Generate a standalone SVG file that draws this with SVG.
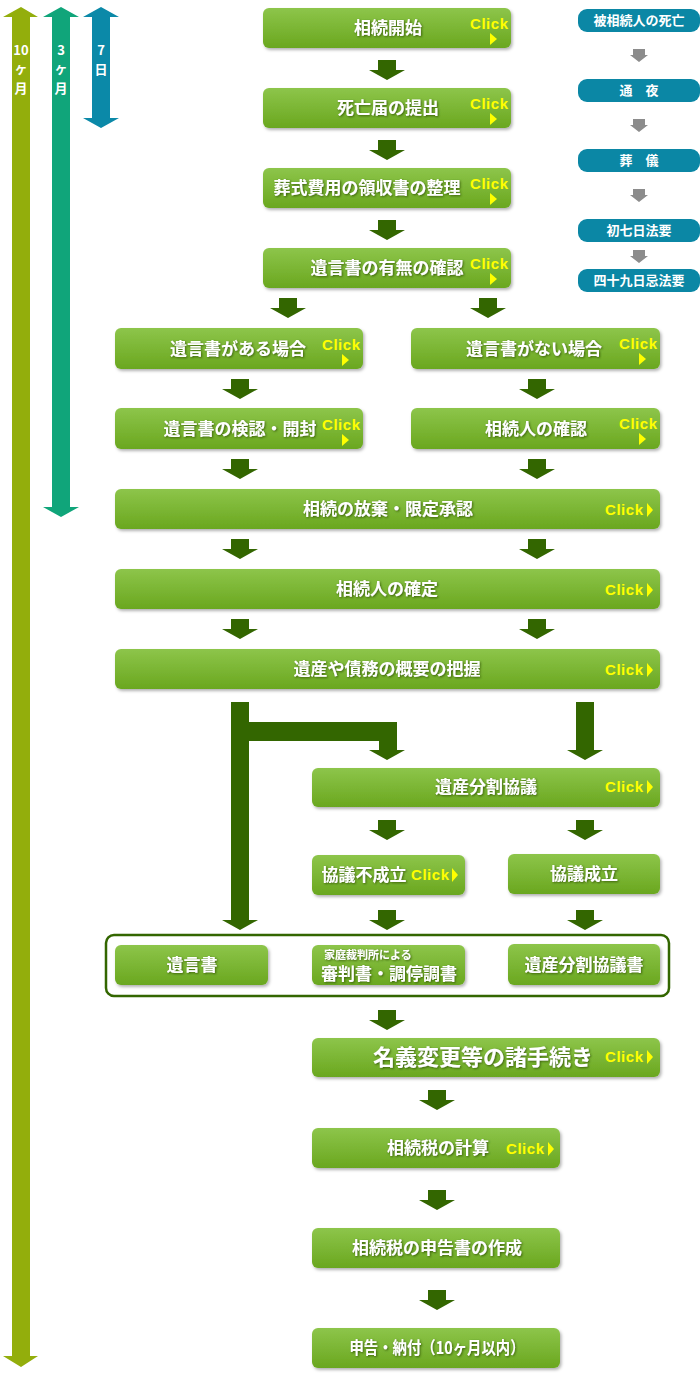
<svg xmlns="http://www.w3.org/2000/svg" xmlns:xlink="http://www.w3.org/1999/xlink" width="700" height="1383" viewBox="0 0 700 1383">
<style>
.box{fill:url(#g);filter:url(#bs)}
.t{font-family:"Noto Sans CJK JP","Noto Sans",sans-serif;font-weight:700;font-size:17px;fill:#fff;text-anchor:middle;filter:url(#ts)}
.ck{font-family:"Liberation Sans",Arial,sans-serif;font-weight:700;font-size:15px;fill:#ffff00;text-anchor:end}
.tri{fill:#ffff00}
.side{fill:#0b87a5}
.st{font-family:"Noto Sans CJK JP","Noto Sans",sans-serif;font-weight:700;font-size:13px;fill:#fff;text-anchor:middle}
.vl{font-family:"Noto Sans CJK JP","Liberation Sans",sans-serif;font-weight:700;font-size:13px;fill:#fff;text-anchor:middle}
.dg{fill:#336600}
.gy{fill:#8c8c8c}
</style>
<defs>
<linearGradient id="g" x1="0" y1="0" x2="0" y2="1">
<stop offset="0" stop-color="#8dc54a"/>
<stop offset="1" stop-color="#6aa71f"/>
</linearGradient>
<filter id="bs" x="-5%" y="-20%" width="110%" height="150%">
<feDropShadow dx="1.5" dy="2" stdDeviation="1.5" flood-color="#000" flood-opacity="0.3"/>
</filter>
<filter id="ts" x="-10%" y="-30%" width="120%" height="160%">
<feDropShadow dx="1" dy="1" stdDeviation="0.8" flood-color="#2a4d00" flood-opacity="0.8"/>
</filter>
<path id="arr" d="M-9,0H9V10H18L0,20L-18,10H-9Z"/>
<path id="garr" d="M-6,0H6V6H9L0,13L-9,6H-6Z"/>
</defs>

<g id="period-arrows">
<path fill="#93ae0c" d="M21,7L38,17H30V1356H38L21,1367L3,1356H12V17H3Z"/>
<path fill="#10a57a" d="M61,7L79,17H70V507H79L61,517L43,507H52V17H43Z"/>
<path fill="#0b89a8" d="M101,7L119,17H110V118H119L101,128L83,118H92V17H83Z"/>
<text class="vl" x="21" y="55">10</text><text class="vl" x="21" y="73">ヶ</text><text class="vl" x="21" y="93">月</text>
<text class="vl" x="61" y="55">3</text><text class="vl" x="61" y="73">ヶ</text><text class="vl" x="61" y="93">月</text>
<text class="vl" x="101" y="55">7</text><text class="vl" x="101" y="74">日</text>
</g>

<g id="sidebar">
<rect class="side" x="578" y="9" width="122" height="23" rx="9"/><text class="st" x="639" y="25">被相続人の死亡</text>
<rect class="side" x="578" y="79" width="122" height="23" rx="9"/><text class="st" x="639" y="95">通　夜</text>
<rect class="side" x="578" y="149" width="122" height="23" rx="9"/><text class="st" x="639" y="165">葬　儀</text>
<rect class="side" x="578" y="219" width="122" height="23" rx="9"/><text class="st" x="639" y="235">初七日法要</text>
<rect class="side" x="578" y="269" width="122" height="23" rx="9"/><text class="st" x="639" y="285">四十九日忌法要</text>
<use href="#garr" class="gy" x="639" y="49"/>
<use href="#garr" class="gy" x="639" y="119"/>
<use href="#garr" class="gy" x="639" y="189"/>
<use href="#garr" class="gy" x="639" y="250"/>
</g>

<g id="connectors" class="dg">
<use href="#arr" x="387" y="60"/>
<use href="#arr" x="387" y="140"/>
<use href="#arr" x="387" y="220"/>
<use href="#arr" x="288" y="298"/>
<use href="#arr" x="488" y="298"/>
<use href="#arr" x="240" y="379"/>
<use href="#arr" x="537" y="379"/>
<use href="#arr" x="240" y="459"/>
<use href="#arr" x="537" y="459"/>
<use href="#arr" x="240" y="539"/>
<use href="#arr" x="537" y="539"/>
<use href="#arr" x="240" y="619"/>
<use href="#arr" x="537" y="619"/>
<path d="M231,702H249V722H397V750H405L387,760L369,750H379V741H249V920H258L240,930L222,920H231Z"/>
<path d="M576,702H594V750H603L585,760L567,750H576Z"/>
<use href="#arr" x="387" y="820"/>
<use href="#arr" x="585" y="820"/>
<use href="#arr" x="387" y="910"/>
<use href="#arr" x="585" y="910"/>
<use href="#arr" x="387" y="1010"/>
<use href="#arr" x="437" y="1090"/>
<use href="#arr" x="437" y="1190"/>
<use href="#arr" x="437" y="1290"/>
</g>

<g id="n1"><rect class="box" x="263" y="8" width="248" height="40" rx="6"/><text class="t" x="388" y="34">相続開始</text><text class="ck" x="508" y="29" textLength="38">Click</text><path class="tri" d="M490,33L497,39L490,45Z"/></g>
<g id="n2"><rect class="box" x="263" y="88" width="248" height="40" rx="6"/><text class="t" x="388" y="114">死亡届の提出</text><text class="ck" x="508" y="109" textLength="38">Click</text><path class="tri" d="M490,113L497,119L490,125Z"/></g>
<g id="n3"><rect class="box" x="263" y="168" width="248" height="40" rx="6"/><text class="t" x="367" y="194">葬式費用の領収書の整理</text><text class="ck" x="508" y="189" textLength="38">Click</text><path class="tri" d="M490,193L497,199L490,205Z"/></g>
<g id="n4"><rect class="box" x="263" y="248" width="248" height="40" rx="6"/><text class="t" x="387" y="274">遺言書の有無の確認</text><text class="ck" x="508" y="269" textLength="38">Click</text><path class="tri" d="M490,273L497,279L490,285Z"/></g>
<g id="n5a"><rect class="box" x="115" y="328" width="248" height="41" rx="6"/><text class="t" x="238" y="355">遺言書がある場合</text><text class="ck" x="360" y="350" textLength="38">Click</text><path class="tri" d="M342,354L349,360L342,366Z"/></g>
<g id="n5b"><rect class="box" x="411" y="328" width="249" height="41" rx="6"/><text class="t" x="534" y="355">遺言書がない場合</text><text class="ck" x="657" y="349" textLength="38">Click</text><path class="tri" d="M639,353L646,359L639,365Z"/></g>
<g id="n6a"><rect class="box" x="115" y="408" width="248" height="41" rx="6"/><text class="t" x="240" y="435">遺言書の検認・開封</text><text class="ck" x="360" y="430" textLength="38">Click</text><path class="tri" d="M342,434L349,440L342,446Z"/></g>
<g id="n6b"><rect class="box" x="411" y="408" width="249" height="41" rx="6"/><text class="t" x="536" y="435">相続人の確認</text><text class="ck" x="657" y="429" textLength="38">Click</text><path class="tri" d="M639,433L646,439L639,445Z"/></g>
<g id="n7"><rect class="box" x="115" y="489" width="545" height="40" rx="6"/><text class="t" x="388" y="515">相続の放棄・限定承認</text><text class="ck" x="643" y="515" textLength="38">Click</text><path class="tri" d="M647,503L653,510L647,517Z"/></g>
<g id="n8"><rect class="box" x="115" y="569" width="545" height="40" rx="6"/><text class="t" x="387" y="595">相続人の確定</text><text class="ck" x="643" y="595" textLength="38">Click</text><path class="tri" d="M647,583L653,590L647,597Z"/></g>
<g id="n9"><rect class="box" x="115" y="649" width="545" height="40" rx="6"/><text class="t" x="387" y="675">遺産や債務の概要の把握</text><text class="ck" x="643" y="675" textLength="38">Click</text><path class="tri" d="M647,663L653,670L647,677Z"/></g>
<g id="n10"><rect class="box" x="312" y="768" width="348" height="39" rx="6"/><text class="t" x="486" y="793">遺産分割協議</text><text class="ck" x="643" y="792" textLength="38">Click</text><path class="tri" d="M647,780L653,787L647,794Z"/></g>
<g id="n11a"><rect class="box" x="312" y="855" width="153" height="40" rx="6"/><text class="t" x="364" y="881">協議不成立</text><text class="ck" x="449" y="880" textLength="38">Click</text><path class="tri" d="M452,868L458,875L452,882Z"/></g>
<g id="n11b"><rect class="box" x="508" y="854" width="152" height="40" rx="6"/><text class="t" x="584" y="880">協議成立</text></g>

<g id="group-docs">
<rect x="106" y="935" width="563" height="61" rx="8" fill="#fff" stroke="#336600" stroke-width="2.5"/>
<g id="n12a"><rect class="box" x="115" y="945" width="153" height="40" rx="6"/><text class="t" x="192" y="971">遺言書</text></g>
<g id="n12b"><rect class="box" x="312" y="945" width="153" height="40" rx="6"/><text class="t" x="324" y="959" style="font-size:11px;text-anchor:start">家庭裁判所による</text><text class="t" x="389" y="980">審判書・調停調書</text></g>
<g id="n12c"><rect class="box" x="508" y="944" width="152" height="41" rx="6"/><text class="t" x="584" y="971">遺産分割協議書</text></g>
</g>

<g id="n13"><rect class="box" x="312" y="1038" width="348" height="39" rx="6"/><text class="t" x="483" y="1065" style="font-size:22px">名義変更等の諸手続き</text><text class="ck" x="643" y="1062" textLength="38">Click</text><path class="tri" d="M647,1050L653,1057L647,1064Z"/></g>
<g id="n14"><rect class="box" x="312" y="1128" width="248" height="40" rx="6"/><text class="t" x="438" y="1154">相続税の計算</text><text class="ck" x="544" y="1154" textLength="38">Click</text><path class="tri" d="M548,1142L554,1149L548,1156Z"/></g>
<g id="n15"><rect class="box" x="312" y="1228" width="248" height="40" rx="6"/><text class="t" x="437" y="1254">相続税の申告書の作成</text></g>
<g id="n16"><rect class="box" x="312" y="1328" width="248" height="40" rx="6"/><text class="t" x="437" y="1354" textLength="175" lengthAdjust="spacingAndGlyphs">申告・納付（10ヶ月以内）</text></g>
</svg>
